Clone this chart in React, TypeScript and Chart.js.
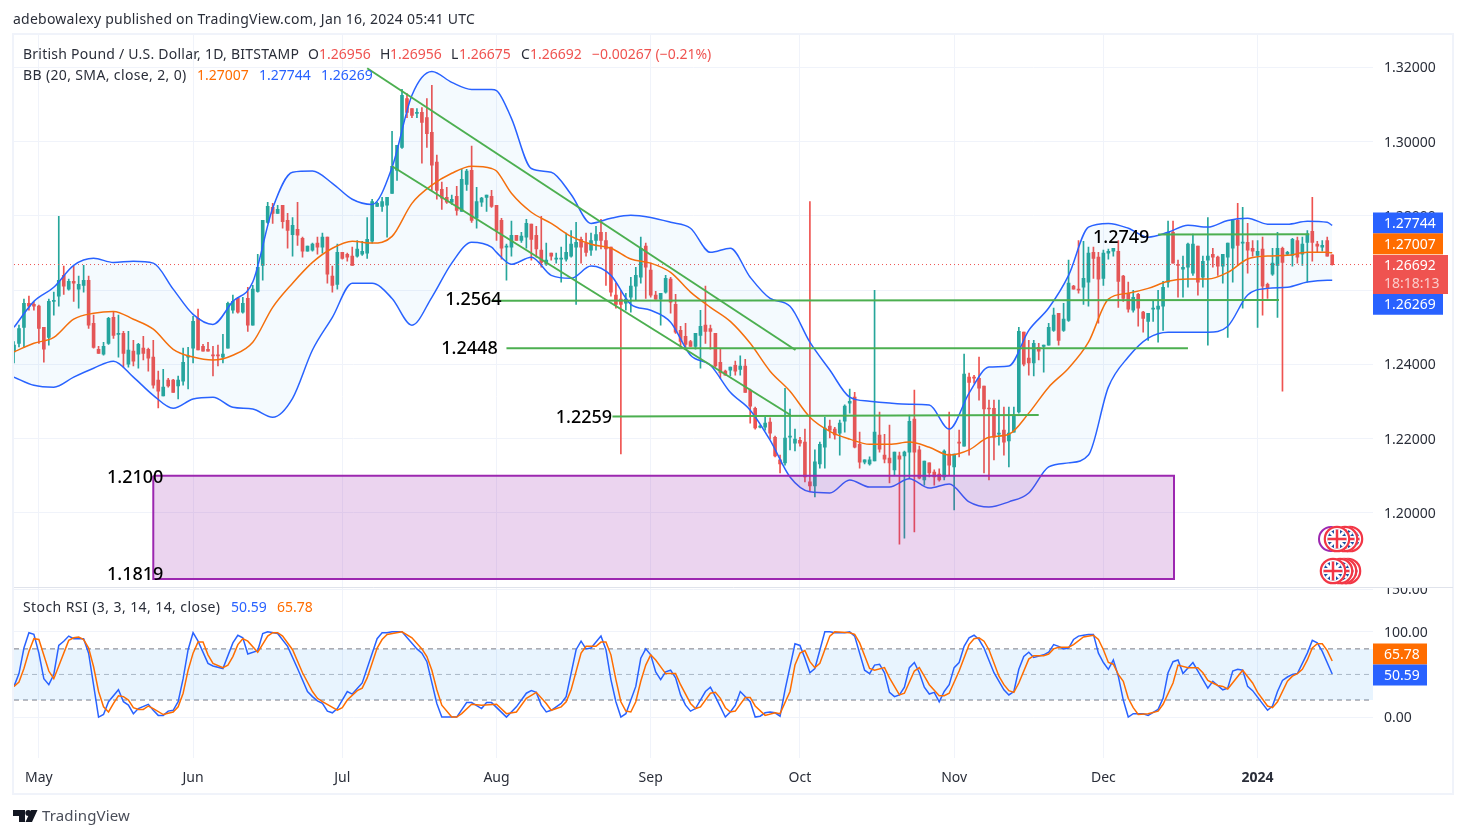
import React, { useEffect, useRef } from "react";
import Chart from "chart.js/auto";

const FONT = '"Noto Sans", sans-serif';
const GREEN = "#26a69a";
const RED = "#ef5350";
const BLUE = "#2962ff";
const ORANGE = "#ff6d00";
const TEXT = "#2a2e39";
const GRID = "#f0f3fa";

// one candle per calendar day, day 0 = Apr 26 2023
const opens = [
  1.2434,1.2457,1.2500,1.2565,1.2562,1.2557,1.2500,1.2473,1.2570,1.2584,
  1.2640,1.2603,1.2624,1.2603,1.2613,1.2627,1.2511,1.2441,1.2428,1.2457,
  1.2527,1.2481,1.2484,1.2401,1.2436,1.2428,1.2444,1.2441,1.2420,1.2358,
  1.2315,1.2358,1.2358,1.2342,1.2355,1.2420,1.2444,1.2524,1.2449,1.2441,
  1.2425,1.2425,1.2420,1.2444,1.2546,1.2578,1.2541,1.2578,1.2506,1.2597,
  1.2667,1.2783,1.2823,1.2807,1.2829,1.2788,1.2750,1.2764,1.2740,1.2705,
  1.2708,1.2727,1.2716,1.2743,1.2638,1.2616,1.2702,1.2697,1.2692,1.2692,
  1.2697,1.2700,1.2732,1.2826,1.2826,1.2829,1.2861,1.2923,1.2985,1.3116,
  1.3089,1.3076,1.3079,1.3065,1.3025,1.2945,1.2872,1.2850,1.2837,1.2853,
  1.2812,1.2885,1.2923,1.2794,1.2837,1.2850,1.2853,1.2829,1.2788,1.2716,
  1.2716,1.2748,1.2734,1.2743,1.2778,1.2748,1.2708,1.2670,1.2700,1.2684,
  1.2684,1.2684,1.2692,1.2716,1.2737,1.2727,1.2708,1.2734,1.2756,1.2734,
  1.2716,1.2587,1.2576,1.2565,1.2581,1.2611,1.2635,1.2719,1.2654,1.2587,
  1.2576,1.2595,1.2630,1.2562,1.2492,1.2476,1.2462,1.2449,1.2478,1.2506,
  1.2497,1.2484,1.2406,1.2382,1.2385,1.2398,1.2387,1.2396,1.2331,1.2282,
  1.2231,1.2231,1.2245,1.2204,1.2143,1.2135,1.2204,1.2188,1.2196,1.2191,
  1.2084,1.2073,1.2132,1.2177,1.2234,1.2226,1.2215,1.2247,1.2296,1.2312,
  1.2185,1.2137,1.2132,1.2140,1.2210,1.2156,1.2148,1.2116,1.2154,1.2154,
  1.2164,1.2253,1.2170,1.2089,1.2135,1.2110,1.2105,1.2097,1.2159,1.2124,
  1.2191,1.2180,1.2366,1.2366,1.2363,1.2342,1.2282,1.2282,1.2212,1.2223,
  1.2194,1.2218,1.2272,1.2487,1.2417,1.2404,1.2446,1.2449,1.2452,1.2492,
  1.2538,1.2492,1.2519,1.2611,1.2603,1.2608,1.2622,1.2702,1.2689,1.2632,
  1.2700,1.2705,1.2705,1.2638,1.2592,1.2546,1.2589,1.2541,1.2516,1.2549,
  1.2549,1.2557,1.2622,1.2756,1.2670,1.2657,1.2662,1.2646,1.2719,1.2635,
  1.2681,1.2697,1.2689,1.2665,1.2689,1.2713,1.2788,1.2727,1.2729,1.2713,
  1.2694,1.2711,1.2616,1.2643,1.2667,1.2713,1.2697,1.2694,1.2734,1.2697,
  1.2729,1.2759,1.2724,1.2716,1.2734,1.26956,
];
const highs = [
  1.2462,1.2506,1.2576,1.2584,1.2568,1.2560,1.2500,1.2576,1.2595,1.2799,
  1.2665,1.2630,1.2665,1.2638,1.2667,1.2638,1.2533,1.2449,1.2460,1.2527,
  1.2541,1.2533,1.2489,1.2489,1.2465,1.2457,1.2476,1.2444,1.2465,1.2382,
  1.2387,1.2363,1.2360,1.2369,1.2444,1.2446,1.2530,1.2549,1.2454,1.2460,
  1.2449,1.2452,1.2481,1.2568,1.2587,1.2581,1.2581,1.2608,1.2613,1.2697,
  1.2788,1.2837,1.2834,1.2829,1.2829,1.2807,1.2796,1.2837,1.2743,1.2719,
  1.2727,1.2743,1.2754,1.2743,1.2665,1.2724,1.2702,1.2700,1.2716,1.2734,
  1.2732,1.2796,1.2845,1.2837,1.2850,1.2850,1.3028,1.2990,1.3141,1.3130,
  1.3089,1.3089,1.3092,1.3116,1.3152,1.2964,1.2891,1.2877,1.2856,1.2880,
  1.2926,1.2926,1.2988,1.2877,1.2850,1.2856,1.2869,1.2829,1.2794,1.2724,
  1.2786,1.2748,1.2756,1.2791,1.2778,1.2772,1.2799,1.2727,1.2700,1.2700,
  1.2716,1.2754,1.2761,1.2783,1.2743,1.2754,1.2754,1.2772,1.2791,1.2756,
  1.2716,1.2619,1.2600,1.2592,1.2635,1.2662,1.2743,1.2727,1.2673,1.2597,
  1.2592,1.2640,1.2635,1.2589,1.2503,1.2511,1.2465,1.2484,1.2546,1.2611,
  1.2506,1.2484,1.2441,1.2385,1.2393,1.2409,1.2423,1.2414,1.2334,1.2285,
  1.2237,1.2258,1.2256,1.2207,1.2156,1.2336,1.2280,1.2226,1.2204,1.2226,
  1.2839,1.2170,1.2191,1.2258,1.2250,1.2231,1.2250,1.2291,1.2334,1.2325,
  1.2218,1.2143,1.2151,1.2600,1.2272,1.2212,1.2237,1.2164,1.2164,1.2167,
  1.2264,1.2331,1.2180,1.2140,1.2135,1.2116,1.2119,1.2170,1.2272,1.2159,
  1.2223,1.2428,1.2377,1.2371,1.2420,1.2342,1.2304,1.2304,1.2304,1.2285,
  1.2285,1.2285,1.2500,1.2487,1.2465,1.2465,1.2457,1.2452,1.2511,1.2552,
  1.2538,1.2565,1.2681,1.2613,1.2734,1.2732,1.2716,1.2716,1.2702,1.2708,
  1.2711,1.2713,1.2734,1.2640,1.2622,1.2600,1.2592,1.2543,1.2538,1.2573,
  1.2600,1.2624,1.2786,1.2786,1.2681,1.2692,1.2727,1.2751,1.2719,1.2692,
  1.2796,1.2713,1.2692,1.2697,1.2727,1.2791,1.2834,1.2823,1.2780,1.2734,
  1.2734,1.2743,1.2619,1.2713,1.2756,1.2716,1.2705,1.2740,1.2743,1.2743,
  1.2761,1.2850,1.2732,1.2734,1.2743,1.26956,
];
const lows = [
  1.2404,1.2447,1.2446,1.2546,1.2546,1.2457,1.2406,1.2452,1.2533,1.2557,
  1.2589,1.2600,1.2570,1.2552,1.2595,1.2497,1.2444,1.2430,1.2425,1.2454,
  1.2470,1.2420,1.2393,1.2393,1.2396,1.2390,1.2412,1.2382,1.2336,1.2283,
  1.2315,1.2339,1.2325,1.2307,1.2344,1.2334,1.2404,1.2439,1.2436,1.2436,
  1.2369,1.2396,1.2404,1.2444,1.2538,1.2538,1.2538,1.2489,1.2506,1.2595,
  1.2627,1.2780,1.2780,1.2807,1.2767,1.2713,1.2692,1.2721,1.2689,1.2705,
  1.2705,1.2697,1.2700,1.2619,1.2595,1.2603,1.2684,1.2678,1.2667,1.2689,
  1.2694,1.2686,1.2727,1.2826,1.2812,1.2743,1.2861,1.2896,1.2982,1.3065,
  1.3065,1.3065,1.2942,1.2985,1.2869,1.2845,1.2818,1.2834,1.2831,1.2802,
  1.2812,1.2869,1.2783,1.2767,1.2826,1.2812,1.2823,1.2734,1.2684,1.2627,
  1.2692,1.2734,1.2729,1.2713,1.2681,1.2689,1.2662,1.2667,1.2681,1.2673,
  1.2622,1.2678,1.2689,1.2562,1.2673,1.2692,1.2694,1.2708,1.2711,1.2613,
  1.2584,1.2552,1.2159,1.2546,1.2541,1.2573,1.2619,1.2578,1.2581,1.2576,
  1.2506,1.2592,1.2538,1.2484,1.2446,1.2446,1.2449,1.2441,1.2390,1.2457,
  1.2441,1.2393,1.2363,1.2371,1.2369,1.2371,1.2371,1.2325,1.2242,1.2226,
  1.2229,1.2223,1.2199,1.2151,1.2108,1.2129,1.2170,1.2167,1.2180,1.2084,
  1.2059,1.2043,1.2121,1.2121,1.2202,1.2199,1.2156,1.2218,1.2269,1.2175,
  1.2121,1.2132,1.2129,1.2140,1.2164,1.2135,1.2081,1.2102,1.1916,1.1932,
  1.2094,1.1949,1.2092,1.2075,1.2097,1.2075,1.2086,1.2089,1.2102,1.2008,
  1.2151,1.2180,1.2156,1.2350,1.2304,1.2108,1.2089,1.2143,1.2183,1.2156,
  1.2124,1.2218,1.2269,1.2396,1.2371,1.2369,1.2412,1.2379,1.2452,1.2489,
  1.2452,1.2489,1.2516,1.2603,1.2592,1.2562,1.2557,1.2632,1.2511,1.2613,
  1.2684,1.2692,1.2554,1.2570,1.2541,1.2541,1.2503,1.2487,1.2465,1.2516,
  1.2460,1.2492,1.2608,1.2673,1.2581,1.2581,1.2608,1.2640,1.2587,1.2608,
  1.2452,1.2662,1.2640,1.2619,1.2473,1.2622,1.2667,1.2552,1.2646,1.2692,
  1.2500,1.2533,1.2578,1.2640,1.2527,1.2328,1.2694,1.2665,1.2673,1.2667,
  1.2622,1.2678,1.2702,1.2705,1.2692,1.26675,
];
const closes = [
  1.2452,1.2497,1.2565,1.2557,1.2557,1.2497,1.2441,1.2570,1.2573,1.2627,
  1.2611,1.2624,1.2619,1.2616,1.2627,1.2506,1.2446,1.2430,1.2449,1.2524,
  1.2478,1.2484,1.2430,1.2439,1.2409,1.2454,1.2430,1.2417,1.2344,1.2328,
  1.2339,1.2342,1.2325,1.2358,1.2406,1.2423,1.2516,1.2439,1.2436,1.2436,
  1.2423,1.2423,1.2428,1.2565,1.2570,1.2541,1.2565,1.2506,1.2603,1.2662,
  1.2788,1.2826,1.2807,1.2818,1.2785,1.2761,1.2775,1.2748,1.2705,1.2719,
  1.2724,1.2716,1.2743,1.2643,1.2613,1.2702,1.2686,1.2689,1.2667,1.2711,
  1.2705,1.2737,1.2839,1.2834,1.2839,1.2850,1.2934,1.2990,1.3125,1.3079,
  1.3071,1.3079,1.3052,1.3022,1.2937,1.2869,1.2848,1.2837,1.2845,1.2815,
  1.2899,1.2921,1.2788,1.2839,1.2848,1.2856,1.2826,1.2761,1.2713,1.2719,
  1.2748,1.2734,1.2746,1.2780,1.2737,1.2711,1.2675,1.2681,1.2692,1.2686,
  1.2686,1.2702,1.2724,1.2729,1.2716,1.2702,1.2734,1.2750,1.2734,1.2711,
  1.2595,1.2562,1.2562,1.2576,1.2611,1.2640,1.2713,1.2662,1.2587,1.2576,
  1.2592,1.2632,1.2568,1.2487,1.2462,1.2454,1.2449,1.2484,1.2503,1.2489,
  1.2489,1.2396,1.2377,1.2371,1.2393,1.2382,1.2396,1.2325,1.2288,1.2229,
  1.2234,1.2242,1.2215,1.2154,1.2132,1.2202,1.2207,1.2199,1.2188,1.2097,
  1.2073,1.2138,1.2185,1.2229,1.2223,1.2210,1.2242,1.2288,1.2301,1.2177,
  1.2137,1.2143,1.2143,1.2218,1.2172,1.2145,1.2135,1.2164,1.2145,1.2164,
  1.2247,1.2164,1.2094,1.2140,1.2108,1.2097,1.2089,1.2167,1.2129,1.2159,
  1.2188,1.2374,1.2352,1.2363,1.2336,1.2280,1.2280,1.2204,1.2215,1.2191,
  1.2215,1.2261,1.2489,1.2401,1.2404,1.2457,1.2436,1.2452,1.2500,1.2533,
  1.2465,1.2522,1.2619,1.2603,1.2600,1.2632,1.2700,1.2686,1.2630,1.2700,
  1.2705,1.2713,1.2624,1.2578,1.2549,1.2581,1.2552,1.2524,1.2538,1.2552,
  1.2557,1.2608,1.2756,1.2673,1.2667,1.2662,1.2724,1.2724,1.2622,1.2678,
  1.2692,1.2689,1.2665,1.2697,1.2727,1.2788,1.2721,1.2729,1.2708,1.2705,
  1.2705,1.2611,1.2605,1.2673,1.2713,1.2675,1.2702,1.2737,1.2689,1.2724,
  1.2751,1.2729,1.2719,1.2721,1.2692,1.26692,
];

// Bollinger bands
const bbDays = [
  0,4,8,12,16,20,24,28,32,36,40,44,48,52,56,60,64,68,72,76,80,84,88,92,96,97,
  100,104,108,112,116,120,124,128,132,136,140,144,148,152,156,160,164,168,172,176,180,184,188,192,
  196,200,204,208,212,216,220,224,228,232,236,240,244,248,252,256,260,264,265,
];
const bbUpper = [
  1.2500,1.2570,1.2608,1.2667,1.2686,1.2675,1.2678,1.2673,1.2603,1.2535,1.2508,1.2570,1.2622,1.2821,1.2918,1.2921,1.2888,1.2845,1.2831,1.2931,1.3125,1.3189,1.3160,1.3141,1.3141,1.3138,
  1.3063,1.2928,1.2918,1.2858,1.2780,1.2794,1.2802,1.2796,1.2783,1.2767,1.2702,1.2713,1.2635,1.2578,1.2557,1.2460,1.2385,1.2312,1.2301,1.2296,1.2293,1.2291,1.2226,1.2323,
  1.2393,1.2396,1.2492,1.2552,1.2640,1.2770,1.2780,1.2767,1.2743,1.2756,1.2775,1.2770,1.2788,1.2794,1.2778,1.2778,1.2786,1.2783,1.27744,
];
const bbMiddle = [
  1.2434,1.2457,1.2473,1.2522,1.2538,1.2543,1.2522,1.2495,1.2441,1.2420,1.2412,1.2425,1.2460,1.2554,1.2619,1.2675,1.2713,1.2732,1.2727,1.2745,1.2834,1.2883,1.2915,1.2934,1.2928,1.2921,
  1.2861,1.2810,1.2780,1.2745,1.2724,1.2713,1.2684,1.2673,1.2648,1.2595,1.2554,1.2516,1.2457,1.2382,1.2328,1.2258,1.2220,1.2199,1.2185,1.2185,1.2191,1.2177,1.2156,1.2170,
  1.2204,1.2212,1.2269,1.2339,1.2390,1.2460,1.2576,1.2592,1.2605,1.2624,1.2630,1.2630,1.2648,1.2684,1.2692,1.2694,1.2702,1.2702,1.27007,
];
const bbLower = [
  1.2366,1.2344,1.2339,1.2366,1.2390,1.2409,1.2366,1.2317,1.2282,1.2307,1.2312,1.2285,1.2280,1.2258,1.2309,1.2439,1.2527,1.2619,1.2619,1.2578,1.2506,1.2581,1.2673,1.2729,1.2716,1.2702,
  1.2670,1.2689,1.2640,1.2632,1.2665,1.2640,1.2562,1.2546,1.2514,1.2425,1.2398,1.2325,1.2277,1.2196,1.2097,1.2057,1.2054,1.2089,1.2070,1.2070,1.2092,1.2067,1.2078,1.2030,
  1.2016,1.2030,1.2054,1.2124,1.2135,1.2156,1.2339,1.2420,1.2471,1.2487,1.2487,1.2487,1.2503,1.2587,1.2605,1.2608,1.2622,1.2627,1.26269,
];

// Stoch RSI
const kDays = [
  0,1,2,3,4,5,6,7,8,9,
  10,11,12,14,15,17,18,19,21,22,
  23,24,25,27,28,29,30,31,32,33,
  34,35,36,37,39,40,42,44,45,46,
  47,49,50,51,53,55,57,59,60,61,
  62,63,64,65,67,68,70,73,74,75,
  76,78,81,82,83,85,86,89,91,92,
  94,95,96,99,101,103,104,105,106,107,
  108,110,111,113,114,115,116,118,119,120,
  121,122,123,125,126,127,128,129,130,131,
  132,133,134,135,136,137,139,140,141,143,
  144,145,146,148,149,150,151,152,153,154,
  155,157,158,159,160,161,163,164,165,167,
  168,169,171,172,173,174,175,176,177,178,
  179,180,181,182,183,184,185,186,187,188,
  189,190,191,192,193,194,195,197,199,200,
  201,202,203,204,205,207,208,209,210,211,
  212,213,214,215,216,217,218,219,220,221,
  222,223,224,225,227,228,230,231,232,233,
  234,235,237,240,241,243,244,245,246,247,
  248,249,252,253,254,255,256,257,258,260,
  261,262,263,265,
];
const kValues = [
  36,51,81,99,97,75,45,38,50,84,
  89,95,92,92,75,0,3,18,32,18,
  14,4,10,15,8,2,2,7,8,18,
  45,79,99,89,63,60,57,87,96,93,
  74,78,98,100,98,83,57,30,24,19,
  16,7,5,10,30,27,40,92,99,99,
  100,100,80,75,65,16,0,0,17,17,
  10,17,17,0,12,28,31,29,14,6,
  8,16,24,79,89,80,81,95,79,44,
  18,0,4,36,69,80,73,53,44,53,
  55,46,26,14,7,10,30,35,24,0,
  6,14,30,18,0,1,5,6,5,1,
  32,86,84,69,52,57,100,100,99,99,
  100,95,55,51,61,62,52,29,24,26,
  35,58,64,52,35,27,29,18,30,38,
  58,64,83,93,96,91,81,52,32,26,
  30,56,71,76,70,73,76,85,83,80,
  81,91,95,96,97,97,75,64,56,67,
  48,20,0,4,4,2,9,22,52,65,
  67,51,64,34,42,32,34,54,56,55,
  36,31,8,13,30,43,47,50,51,75,
  90,87,77,50.59,
];
const dDays = [
  0,1,2,3,4,5,7,8,9,11,
  12,13,14,15,16,17,18,19,20,21,
  22,23,24,25,26,27,28,30,32,33,
  34,35,36,37,38,39,40,42,43,44,
  45,46,47,49,51,52,53,54,56,58,
  60,61,62,65,66,67,69,70,71,73,
  74,75,78,80,82,83,84,85,86,88,
  89,90,92,94,97,99,101,103,105,107,
  108,110,111,112,114,115,117,118,119,120,
  121,122,123,124,125,126,127,128,129,131,
  133,134,136,137,138,140,141,142,143,144,
  145,147,148,149,151,153,154,156,157,158,
  159,160,161,162,164,165,168,169,170,172,
  173,175,176,178,179,181,182,183,184,186,
  187,188,190,192,193,194,195,196,198,199,
  200,201,202,204,205,207,208,209,210,212,
  213,215,217,218,219,220,221,222,223,224,
  225,226,228,230,231,233,234,236,238,239,
  240,241,242,243,244,247,249,250,252,253,
  254,256,257,258,259,260,261,262,263,264,
  265,
];
const dValues = [
  36,41,57,77,92,91,54,45,60,90,
  93,94,91,81,59,30,12,6,16,25,
  24,20,11,9,9,13,10,3,6,12,
  28,55,75,88,88,73,63,58,61,71,
  85,92,89,76,95,99,99,95,79,52,
  30,22,18,8,11,20,31,34,46,81,
  91,97,100,93,80,71,55,32,14,0,
  0,4,15,14,15,4,6,22,29,16,
  8,12,18,32,75,83,83,88,88,73,
  44,18,7,6,18,42,61,73,67,51,
  51,38,16,10,12,28,29,22,11,6,
  7,23,23,13,2,5,4,30,61,75,
  78,65,58,63,95,100,99,97,87,57,
  55,58,46,26,28,54,58,48,38,25,
  25,28,54,85,92,93,89,79,48,38,
  31,29,40,68,72,72,74,80,82,82,
  85,94,96,91,79,64,62,50,42,22,
  11,3,4,7,15,40,61,58,58,52,
  43,40,37,36,33,55,40,29,13,11,
  18,42,48,51,56,67,81,86,86,78,
  65.78,
];

// axes
const priceTicks = [1.2, 1.22, 1.24, 1.26, 1.28, 1.3, 1.32];
const stochTicks = [0, 100, 150];
const monthDays = [5, 36, 66, 97, 128, 158, 189, 219, 250];
const monthLabels = ["May", "Jun", "Jul", "Aug", "Sep", "Oct", "Nov", "Dec", "2024"];

// hand drawn lines on the chart
const channelTopDays = [71, 157.1];
const channelTopPrices = [1.3198, 1.2439];
const channelBottomDays = [76, 156.1];
const channelBottomPrices = [1.2934, 1.2264];
const levelDays = [[96, 254.3], [99, 236], [120.3, 206], [230, 260.4]];
const levelPrices = [[1.2572, 1.2574], [1.2444, 1.2444], [1.226, 1.2264], [1.275, 1.2751]];
const zoneDays = [28, 233.2, 233.2, 28, 28];
const zonePrices = [1.21, 1.21, 1.1822, 1.1822, 1.21];
const noteTexts = ["1.2749", "1.2564", "1.2448", "1.2259", "1.2100", "1.1819"];
const noteDays = [216.9, 86.7, 85.9, 108.9, 18.7, 18.7];
const notePrices = [1.2745, 1.2576, 1.2446, 1.2258, 1.2097, 1.1835];

const lastPrice = 1.26692;
const bandLimits = [80, 50, 20];
const xMin = 0;
const xMax = 273.2;

const toPoints = (xs: number[], ys: number[]) => xs.map((x, i) => ({ x, y: ys[i] }));

const text = (ctx: any, s: string, x: number, y: number, color: string, font = `14px ${FONT}`, spacing = 0) => {
  ctx.font = font;
  ctx.fillStyle = color;
  ctx.textAlign = "left";
  ctx.textBaseline = "middle";
  ctx.letterSpacing = `${spacing}px`;
  ctx.fillText(s, x, y + 1);
  ctx.letterSpacing = "0px";
};

const badge = (ctx: CanvasRenderingContext2D, s: string, y: number, color: string, w = 70) => {
  ctx.fillStyle = color;
  ctx.fillRect(1373, y - 10.5, w, 21);
  text(ctx, s, 1384, y, "#ffffff");
};

const flag = (ctx: CanvasRenderingContext2D, cx: number, cy: number) => {
  ctx.save();
  ctx.beginPath();
  ctx.arc(cx, cy, 13, 0, Math.PI * 2);
  ctx.fillStyle = "#ffffff";
  ctx.fill();
  ctx.strokeStyle = "#f23645";
  ctx.lineWidth = 2.2;
  ctx.beginPath();
  ctx.arc(cx, cy, 12.2, 0, Math.PI * 2);
  ctx.stroke();
  ctx.beginPath();
  ctx.arc(cx, cy, 9.5, 0, Math.PI * 2);
  ctx.clip();
  ctx.fillStyle = "#1e50a0";
  ctx.fillRect(cx - 10, cy - 10, 20, 20);
  ctx.strokeStyle = "#ffffff";
  ctx.lineWidth = 3;
  ctx.beginPath();
  ctx.moveTo(cx - 10, cy - 10);
  ctx.lineTo(cx + 10, cy + 10);
  ctx.moveTo(cx + 10, cy - 10);
  ctx.lineTo(cx - 10, cy + 10);
  ctx.stroke();
  ctx.lineWidth = 6;
  ctx.beginPath();
  ctx.moveTo(cx, cy - 10);
  ctx.lineTo(cx, cy + 10);
  ctx.moveTo(cx - 10, cy);
  ctx.lineTo(cx + 10, cy);
  ctx.stroke();
  ctx.strokeStyle = "#f23645";
  ctx.lineWidth = 2.5;
  ctx.stroke();
  ctx.restore();
};

// everything TradingView paints around the plot: legend rows, price badges, frame
const decorations = {
  id: "decorations",
  afterDraw(chart: any) {
    const ctx: CanvasRenderingContext2D = chart.ctx;
    const { x, y, y2 } = chart.scales;
    ctx.save();

    ctx.strokeStyle = GRID;
    ctx.lineWidth = 2;
    ctx.strokeRect(13, 34, 1440, 760);
    ctx.strokeStyle = "#e0e3eb";
    ctx.lineWidth = 1;
    ctx.beginPath();
    ctx.moveTo(14, 587.5);
    ctx.lineTo(1453, 587.5);
    ctx.stroke();

    text(ctx, "adebowalexy published on TradingView.com, Jan 16, 2024 05:41 UTC", 13, 19, TEXT, `14px ${FONT}`, 0.23);

    text(ctx, "British Pound / U.S. Dollar, 1D, BITSTAMP", 23, 54, TEXT, `14px ${FONT}`, 0.24);
    const ohlc: [string, number, string][] = [
      ["O", 308, TEXT], ["1.26956", 319, RED], ["H", 380, TEXT], ["1.26956", 390, RED],
      ["L", 451, TEXT], ["1.26675", 459, RED], ["C", 521, TEXT], ["1.26692", 530, RED],
      ["\u22120.00267 (\u22120.21%)", 592, RED],
    ];
    ohlc.forEach(([s, px, c]) => text(ctx, s, px, 54, c));

    text(ctx, "BB (20, SMA, close, 2, 0)", 23, 75, TEXT, `14px ${FONT}`, 0.36);
    text(ctx, "1.27007", 197, 75, ORANGE);
    text(ctx, "1.27744", 259, 75, BLUE);
    text(ctx, "1.26269", 321, 75, BLUE);

    text(ctx, "Stoch RSI (3, 3, 14, 14, close)", 23, 607, TEXT, `14px ${FONT}`, 0.42);
    text(ctx, "50.59", 231, 607, BLUE);
    text(ctx, "65.78", 277, 607, ORANGE);

    noteTexts.forEach((s, i) => {
      text(ctx, s, x.getPixelForValue(noteDays[i]), y.getPixelForValue(notePrices[i]), "#000000", `500 18px ${FONT}`);
    });

    // the top stoch tick is cut by the pane edge
    ctx.save();
    ctx.beginPath();
    ctx.rect(1373, 588, 80, 20);
    ctx.clip();
    text(ctx, "150.00", 1384, y2.getPixelForValue(150), TEXT);
    ctx.restore();

    badge(ctx, "1.27744", y.getPixelForValue(1.27744) - 2.5, BLUE);
    badge(ctx, "1.27007", y.getPixelForValue(1.27007) - 9, ORANGE);
    badge(ctx, "1.26269", y.getPixelForValue(1.26269) + 24, BLUE);
    ctx.fillStyle = RED;
    ctx.fillRect(1373, 255, 75, 39);
    text(ctx, "1.26692", 1384, 265, "#ffffff");
    text(ctx, "18:18:13", 1384, 283, "rgba(255,255,255,0.7)");
    badge(ctx, "65.78", 654, ORANGE, 54);
    badge(ctx, "50.59", 675, BLUE, 54);

    ctx.strokeStyle = "#9c27b0";
    ctx.lineWidth = 2;
    ctx.beginPath();
    ctx.arc(1331, 539, 12, 0, Math.PI * 2);
    ctx.stroke();
    [1350, 1345, 1337].forEach((cx) => flag(ctx, cx, 539));
    [1348, 1344, 1340, 1333].forEach((cx) => flag(ctx, cx, 571));

    // logo
    ctx.fillStyle = "#131722";
    ctx.beginPath();
    ctx.moveTo(13, 810);
    ctx.lineTo(25, 810);
    ctx.lineTo(25, 822);
    ctx.lineTo(19, 822);
    ctx.lineTo(19, 816);
    ctx.lineTo(13, 816);
    ctx.closePath();
    ctx.moveTo(31, 810);
    ctx.lineTo(37.5, 810);
    ctx.lineTo(32, 822);
    ctx.lineTo(25.5, 822);
    ctx.closePath();
    ctx.fill();
    ctx.beginPath();
    ctx.arc(28.3, 813, 3, 0, Math.PI * 2);
    ctx.fill();
    text(ctx, "TradingView", 42, 816, "#4a4e59", `15px ${FONT}`, 0.15);

    ctx.restore();
  },
};

const plainLine = (data: any[], color: string, width: number, extra: any = {}) => ({
  type: "line",
  data,
  borderColor: color,
  borderWidth: width,
  pointRadius: 0,
  tension: 0,
  fill: false,
  yAxisID: "y",
  order: 1,
  ...extra,
});

const App: React.FC = () => {
  const chartRef = useRef<HTMLCanvasElement | null>(null);

  useEffect(() => {
    if (!chartRef.current) return;

    const candleColors = closes.map((c, i) => (c < opens[i] ? RED : GREEN));
    const wicks = highs.map((h, i) => ({ x: i, y: [lows[i], h] }));
    const bodies = closes.map((c, i) => ({ x: i, y: [Math.min(opens[i], c), Math.max(opens[i], c)] }));
    const priceEdges = [xMin, xMax];
    const smooth = { cubicInterpolationMode: "monotone", order: 3 };

    const datasets: any[] = [
      { type: "bar", data: wicks, backgroundColor: candleColors, barThickness: 1, grouped: false, yAxisID: "y", order: 6 },
      { type: "bar", data: bodies, backgroundColor: candleColors, barThickness: 3, minBarLength: 1, grouped: false, yAxisID: "y", order: 5 },
      plainLine(toPoints(bbDays, bbUpper), BLUE, 1.5, { fill: "+2", backgroundColor: "rgba(33,150,243,0.05)", ...smooth }),
      plainLine(toPoints(bbDays, bbMiddle), ORANGE, 1.5, smooth),
      plainLine(toPoints(bbDays, bbLower), BLUE, 1.5, smooth),
      plainLine(toPoints(priceEdges, [lastPrice, lastPrice]), RED, 1, { borderDash: [1, 3], order: 4 }),
      plainLine(toPoints(channelTopDays, channelTopPrices), "#4caf50", 2),
      plainLine(toPoints(channelBottomDays, channelBottomPrices), "#4caf50", 2),
      ...levelDays.map((days, i) => plainLine(toPoints(days, levelPrices[i]), "#4caf50", 2)),
      plainLine(toPoints(zoneDays, zonePrices), "#9c27b0", 2, { fill: "shape", backgroundColor: "rgba(156,39,176,0.2)", order: 2 }),
      plainLine(toPoints(priceEdges, [bandLimits[0], bandLimits[0]]), "#787b86", 1, {
        borderDash: [5, 4], fill: "+2", backgroundColor: "rgba(33,150,243,0.1)", yAxisID: "y2", order: 4,
      }),
      plainLine(toPoints(priceEdges, [bandLimits[1], bandLimits[1]]), "rgba(120,123,134,0.5)", 1, {
        borderDash: [5, 4], yAxisID: "y2", order: 4,
      }),
      plainLine(toPoints(priceEdges, [bandLimits[2], bandLimits[2]]), "#787b86", 1, {
        borderDash: [5, 4], yAxisID: "y2", order: 4,
      }),
      plainLine(toPoints(kDays, kValues), BLUE, 1.5, { yAxisID: "y2", order: 2 }),
      plainLine(toPoints(dDays, dValues), ORANGE, 1.5, { yAxisID: "y2", order: 1 }),
    ];

    const chart = new Chart(chartRef.current, {
      type: "bar",
      data: { datasets },
      plugins: [decorations],
      options: {
        animation: false,
        responsive: false,
        devicePixelRatio: 1,
        layout: { padding: { left: 14, top: 35, right: 13, bottom: 44 } },
        plugins: { legend: { display: false }, tooltip: { enabled: false }, title: { display: false } },
        scales: {
          x: {
            type: "linear",
            min: xMin,
            max: xMax,
            offset: false,
            grid: { color: GRID, drawTicks: false, offset: false },
            border: { display: false },
            afterBuildTicks: (scale: any) => {
              scale.ticks = monthDays.map((value) => ({ value }));
            },
            afterFit: (scale: any) => {
              scale.height = 36;
            },
            ticks: {
              autoSkip: false,
              maxRotation: 0,
              padding: 12,
              color: TEXT,
              font: (c: any) => ({ family: "Noto Sans", size: 14, weight: c.tick && c.tick.value === 250 ? "bold" : "normal" }),
              callback: (v: any) => monthLabels[monthDays.indexOf(v)],
            },
          },
          y: {
            position: "right",
            stack: "panes",
            stackWeight: 552.5,
            min: 1.17993,
            max: 1.32875,
            grid: { color: GRID, drawTicks: false },
            border: { display: false },
            afterBuildTicks: (scale: any) => {
              scale.ticks = priceTicks.map((value) => ({ value }));
            },
            afterFit: (scale: any) => {
              scale.width = 80;
            },
            ticks: {
              autoSkip: false,
              padding: 11,
              labelOffset: 1,
              color: TEXT,
              font: { family: "Noto Sans", size: 14 },
              callback: (v: any) => Number(v).toFixed(5),
            },
          },
          y2: {
            position: "right",
            stack: "panes",
            stackWeight: 170.5,
            min: -48,
            max: 152,
            grid: { color: GRID, drawTicks: false },
            border: { display: false },
            afterBuildTicks: (scale: any) => {
              scale.ticks = stochTicks.map((value) => ({ value }));
            },
            afterFit: (scale: any) => {
              scale.width = 80;
            },
            ticks: {
              autoSkip: false,
              padding: 11,
              labelOffset: 1,
              color: TEXT,
              font: { family: "Noto Sans", size: 14 },
              callback: (v: any) => (v === 150 ? "" : Number(v).toFixed(2)),
            },
          },
        },
      },
    } as any);

    return () => {
      chart.destroy();
    };
  }, []);

  return (
    <div style={{ position: "absolute", left: 0, top: 0, width: 1466, height: 838, background: "#ffffff" }}>
      <canvas ref={chartRef} width={1466} height={838} style={{ display: "block" }} />
    </div>
  );
};

export default App;
